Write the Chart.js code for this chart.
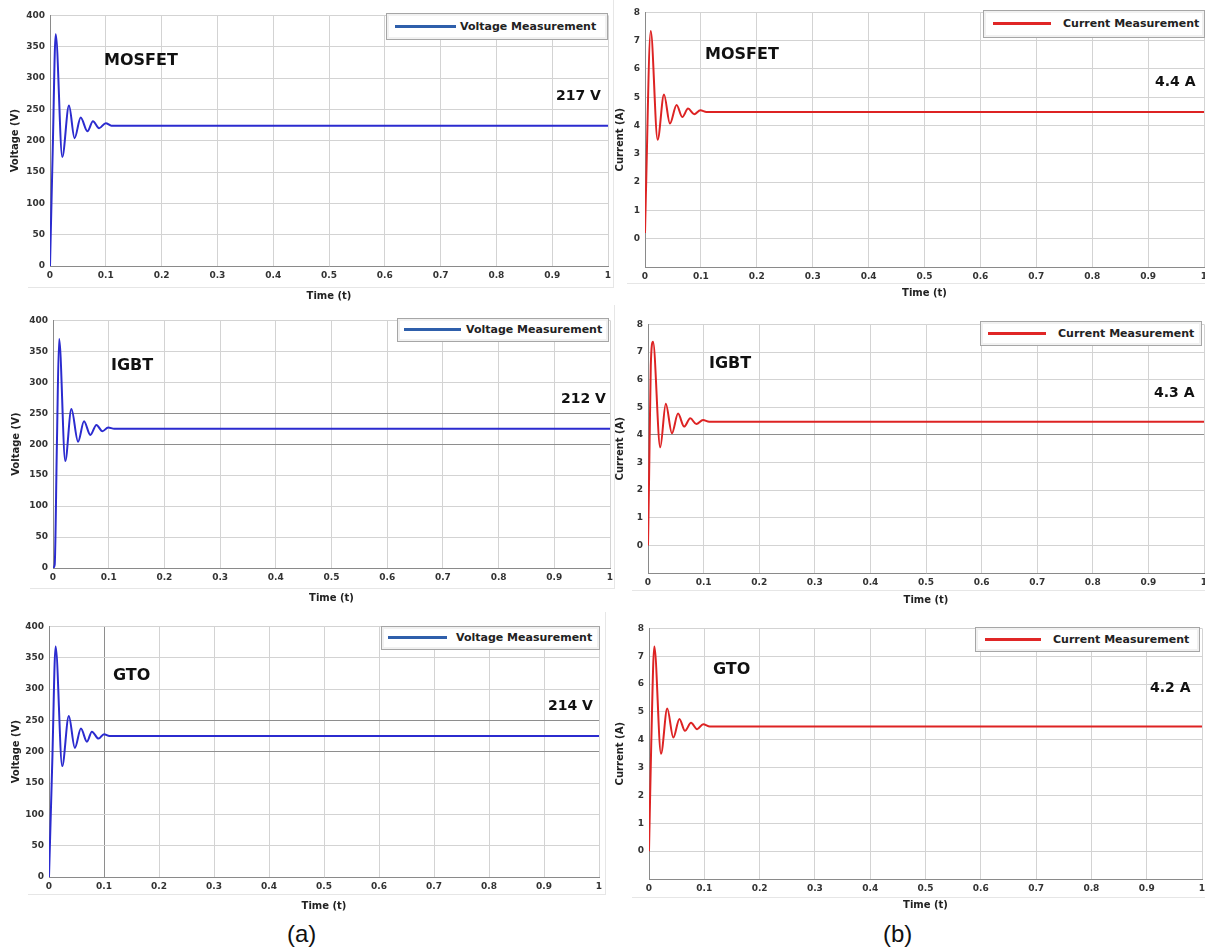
<!DOCTYPE html>
<html>
<head>
<meta charset="utf-8">
<script src="https://cdn.jsdelivr.net/npm/chart.js@4.4.1/dist/chart.umd.min.js"></script>
<style>
  html, body { margin: 0; padding: 0; background: #fff; overflow: hidden; }
  body { width: 1205px; height: 950px; position: relative; font-family: "DejaVu Sans", sans-serif; }
  .panel { position: absolute; }
  .frame { position: absolute; border-right: 1px solid #e6e6e6; border-bottom: 1px solid #e6e6e6; }
  .legend { position: absolute; border: 1px solid #a6a6a6; background: #fff; box-shadow: inset 0 0 0 2px #f1f1f1; }
  .legend .line { position: absolute; height: 3px; }
  .legend .txt { position: absolute; font: bold 11px "DejaVu Sans", sans-serif; color: #222; white-space: nowrap; line-height: 1; }
  .tag { position: absolute; font-weight: bold; color: #111; white-space: nowrap; line-height: 1; }
  .cap { position: absolute; font: 24px "Liberation Sans", Arial, sans-serif; color: #111; line-height: 1; }
</style>
</head>
<body>
<div class="cap" style="left:287px; top:922px;">(a)</div>
<div class="cap" style="left:883px; top:922px;">(b)</div>

<script>
// ticks shared by the scope plots
const timeTicks = [0, 0.1, 0.2, 0.3, 0.4, 0.5, 0.6, 0.7, 0.8, 0.9, 1];
const voltageTicks = [0, 50, 100, 150, 200, 250, 300, 350, 400];
const currentTicks = [-1, 0, 1, 2, 3, 4, 5, 6, 7, 8];

// MOSFET
const tMosfetV = [0, 0.005, 0.0102, 0.022, 0.034, 0.044, 0.055, 0.067, 0.077, 0.088, 0.1, 0.11, 1];
const vMosfet  = [0, 190, 370, 174, 256, 204, 237, 215, 231, 220, 228, 224, 224];
const tMosfetI = [0, 0.0015, 0.0102, 0.0226, 0.034, 0.0446, 0.0565, 0.0667, 0.077, 0.088, 0.099, 0.11, 1];
const iMosfet  = [0.2, 1.5, 7.34, 3.5, 5.1, 4.07, 4.73, 4.3, 4.6, 4.4, 4.54, 4.48, 4.48];

// IGBT
const tIgbtV = [0, 0.003, 0.007, 0.011, 0.022, 0.033, 0.045, 0.0557, 0.067, 0.078, 0.0887, 0.099, 0.11, 1];
const vIgbt  = [0, 5, 200, 370, 173, 257, 204, 237, 215, 231, 221, 227, 225, 225];
const tIgbtI = [0, 0.002, 0.005, 0.009, 0.022, 0.032, 0.043, 0.054, 0.065, 0.076, 0.087, 0.099, 0.11, 1];
const iIgbt  = [0, 2.5, 6.5, 7.37, 3.55, 5.13, 4.06, 4.77, 4.3, 4.6, 4.39, 4.54, 4.48, 4.48];

// GTO
const tGtoV = [0, 0.006, 0.012, 0.024, 0.036, 0.047, 0.058, 0.069, 0.078, 0.09, 0.1, 0.11, 1];
const vGto  = [0, 185, 368, 177, 257, 206, 237, 216, 232, 221, 228, 225, 225];
const tGtoI = [0, 0.004, 0.0096, 0.0217, 0.033, 0.044, 0.055, 0.065, 0.076, 0.087, 0.098, 0.11, 1];
const iGto  = [0, 3.8, 7.35, 3.5, 5.12, 4.08, 4.75, 4.32, 4.61, 4.38, 4.56, 4.48, 4.48];

const deviceNames = ['MOSFET', 'IGBT', 'GTO'];
const voltageLabels = ['217 V', '212 V', '214 V'];
const currentLabels = ['4.4 A', '4.3 A', '4.2 A'];

// layout of each panel (pixels)
const panels = [
  { t: tMosfetV, y: vMosfet, kind: 'V', box: { left: 0, top: 5, width: 620, height: 301 },
    plot: { l: 50, r: 608, t: 15, b: 266 }, titlePad: 9, frame: { left: 28, top: 0, right: 613, bottom: 287 },
    legend: { l: 386, t: 13, w: 220, h: 25, lineL: 8, lineW: 61, txtL: 73 },
    name: { text: deviceNames[0], x: 104, y: 60 }, value: { text: voltageLabels[0], x: 556, y: 95 },
    darkX: [], darkY: [] },
  { t: tMosfetI, y: iMosfet, kind: 'I', box: { left: 612, top: 2, width: 600, height: 301 },
    plot: { l: 645, r: 1204, t: 9.5, b: 267 }, titlePad: 2, frame: { left: 627, top: 0, right: 1210, bottom: 283 },
    legend: { l: 983, t: 10, w: 220, h: 26, lineL: 9, lineW: 58, txtL: 79 },
    name: { text: deviceNames[0], x: 705, y: 54 }, value: { text: currentLabels[0], x: 1155, y: 81 },
    darkX: [], darkY: [] },
  { t: tIgbtV, y: vIgbt, kind: 'V', box: { left: 0, top: 310, width: 620, height: 298 },
    plot: { l: 53, r: 610, t: 318, b: 568 }, titlePad: 10, frame: { left: 30, top: 305, right: 614, bottom: 588 },
    legend: { l: 397, t: 318, w: 210, h: 22, lineL: 6, lineW: 57, txtL: 68 },
    name: { text: deviceNames[1], x: 111, y: 365 }, value: { text: voltageLabels[1], x: 561, y: 398 },
    darkX: [], darkY: [200, 250] },
  { t: tIgbtI, y: iIgbt, kind: 'I', box: { left: 612, top: 314, width: 600, height: 296 },
    plot: { l: 648, r: 1204, t: 322, b: 573 }, titlePad: 2, frame: { left: 632, top: 305, right: 1210, bottom: 590 },
    legend: { l: 980, t: 321, w: 220, h: 23, lineL: 7, lineW: 58, txtL: 77 },
    name: { text: deviceNames[1], x: 709, y: 363 }, value: { text: currentLabels[1], x: 1154, y: 392 },
    darkX: [], darkY: [4] },
  { t: tGtoV, y: vGto, kind: 'V', box: { left: 0, top: 616, width: 610, height: 300 },
    plot: { l: 49, r: 599, t: 624, b: 877 }, titlePad: 10, frame: { left: 28, top: 612, right: 605, bottom: 894 },
    legend: { l: 381, t: 626, w: 217, h: 22, lineL: 6, lineW: 59, txtL: 74 },
    name: { text: deviceNames[2], x: 113, y: 675 }, value: { text: voltageLabels[2], x: 548, y: 705 },
    darkX: [0.1], darkY: [200, 250] },
  { t: tGtoI, y: iGto, kind: 'I', box: { left: 612, top: 618, width: 600, height: 297 },
    plot: { l: 649, r: 1202, t: 626, b: 879 }, titlePad: 2, frame: { left: 632, top: 612, right: 1210, bottom: 897 },
    legend: { l: 975, t: 627, w: 223, h: 23, lineL: 9, lineW: 56, txtL: 77 },
    name: { text: deviceNames[2], x: 713, y: 669 }, value: { text: currentLabels[2], x: 1150, y: 687 },
    darkX: [], darkY: [] }
];

const tickFont = { family: 'DejaVu Sans', size: 9, weight: 'bold' };
const titleFont = { family: 'DejaVu Sans', size: 10, weight: 'bold' };

function addDiv(cls, css, html) {
  const d = document.createElement('div');
  d.className = cls;
  d.style.cssText = css;
  if (html) d.innerHTML = html;
  document.body.appendChild(d);
  return d;
}

function gridColor(dark) {
  return ctx => (ctx.tick && dark.includes(ctx.tick.value)) ? '#8e8e8e' : '#d3d3d3';
}

function drawPanel(p) {
  const isV = p.kind === 'V';
  const f = p.frame;
  addDiv('frame', `left:${f.left}px;top:${f.top}px;width:${f.right - f.left}px;height:${f.bottom - f.top}px;`);

  const wrap = addDiv('panel', `left:${p.box.left}px;top:${p.box.top}px;width:${p.box.width}px;height:${p.box.height}px;`);
  const canvas = document.createElement('canvas');
  canvas.width = p.box.width;
  canvas.height = p.box.height;
  wrap.appendChild(canvas);

  const points = p.t.map((t, i) => ({ x: t, y: p.y[i] }));
  const yTicks = isV ? voltageTicks : currentTicks;

  new Chart(canvas, {
    type: 'line',
    data: {
      datasets: [{
        data: points,
        borderColor: isV ? '#2b2bcf' : '#dd2323',
        borderWidth: 2,
        pointRadius: 0,
        cubicInterpolationMode: 'monotone',
        fill: false
      }]
    },
    options: {
      responsive: false,
      animation: false,
      devicePixelRatio: 1,
      layout: {
        padding: {
          left: 0,
          top: p.plot.t - p.box.top,
          right: p.box.left + p.box.width - p.plot.r,
          bottom: 0
        }
      },
      plugins: { legend: { display: false }, tooltip: { enabled: false } },
      scales: {
        x: {
          type: 'linear', min: 0, max: 1,
          afterBuildTicks: s => { s.ticks = timeTicks.map(v => ({ value: v })); },
          afterFit: s => { s.height = p.box.top + p.box.height - p.plot.b; },
          grid: { color: gridColor(p.darkX), drawTicks: false },
          border: { color: '#8a8a8a' },
          ticks: { padding: 4, font: tickFont, color: '#333', maxRotation: 0, autoSkip: false,
                   callback: v => String(v) },
          title: { display: true, text: 'Time (t)', font: titleFont, color: '#222',
                   padding: { top: 0, bottom: 4 } }
        },
        y: {
          type: 'linear', min: yTicks[0], max: yTicks[yTicks.length - 1],
          afterBuildTicks: s => { s.ticks = yTicks.map(v => ({ value: v })); },
          afterFit: s => { s.width = p.plot.l - p.box.left; },
          grid: { color: gridColor(p.darkY), drawTicks: false },
          border: { color: '#8a8a8a' },
          ticks: { padding: 5, font: tickFont, color: '#333', autoSkip: false,
                   callback: v => (v < 0 ? '' : String(v)) },
          title: { display: true, text: isV ? 'Voltage (V)' : 'Current (A)', font: titleFont, color: '#222',
                   padding: { top: p.titlePad, bottom: 0 } }
        }
      }
    }
  });

  // legend box
  const L = p.legend;
  const lg = addDiv('legend', `left:${L.l}px;top:${L.t}px;width:${L.w}px;height:${L.h}px;`);
  const mid = Math.round(L.h / 2) - 2;
  lg.innerHTML =
    `<span class="line" style="left:${L.lineL}px;top:${mid}px;width:${L.lineW}px;background:${isV ? '#2f5fab' : '#e02626'};"></span>` +
    `<span class="txt" style="left:${L.txtL}px;top:${mid - 4}px;">${isV ? 'Voltage Measurement' : 'Current Measurement'}</span>`;

  // device name and measured value
  addDiv('tag', `left:${p.name.x}px;top:${p.name.y - 8}px;font-size:16px;`, p.name.text);
  addDiv('tag', `left:${p.value.x}px;top:${p.value.y - 7}px;font-size:14px;`, p.value.text);
}

panels.forEach(drawPanel);
</script>
</body>
</html>
